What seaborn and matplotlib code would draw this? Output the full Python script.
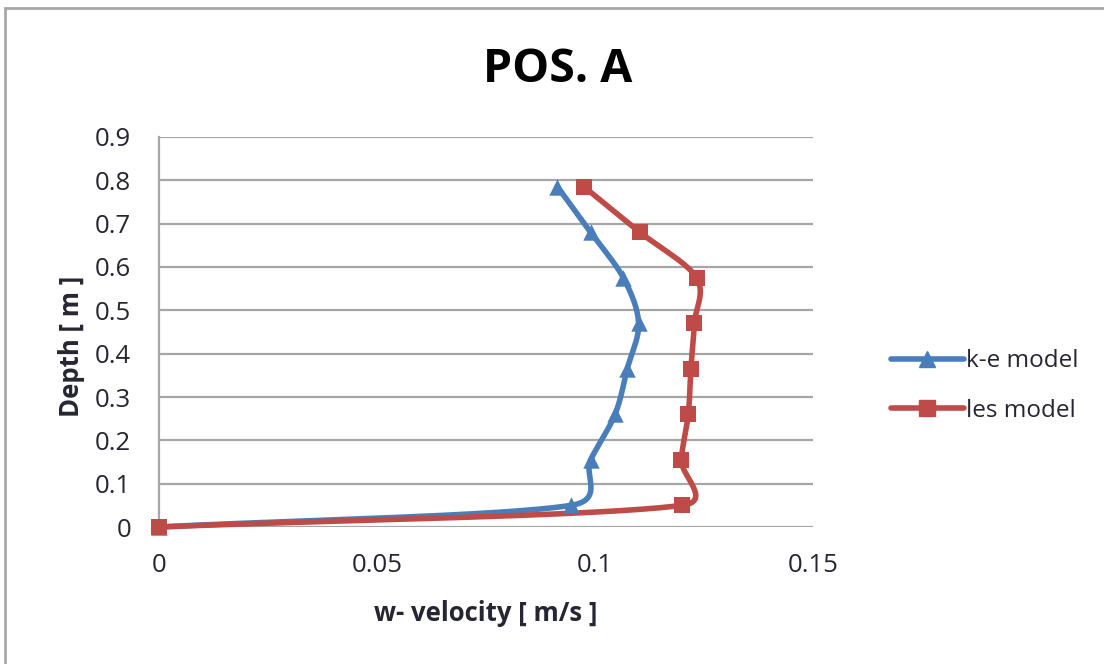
import numpy as np
import pandas as pd
import matplotlib
matplotlib.use("Agg")
import matplotlib.pyplot as plt
from matplotlib.lines import Line2D
from matplotlib.patches import Rectangle
import seaborn as sns

# Measured profiles
depth = [0.0, 0.05, 0.155, 0.26, 0.365, 0.47, 0.575, 0.68, 0.785]
ke_velocity = [0.0, 0.0945, 0.0990, 0.1046, 0.1074, 0.1100, 0.1065, 0.0990, 0.0914]
les_velocity = [0.0, 0.1200, 0.1198, 0.1214, 0.1220, 0.1228, 0.1233, 0.1103, 0.0975]
series_names = ["k-e model", "les model"]
x_ticks = [0, 0.05, 0.1, 0.15]
x_tick_labels = ["0", "0.05", "0.1", "0.15"]
y_ticks = [0, 0.1, 0.2, 0.3, 0.4, 0.5, 0.6, 0.7, 0.8, 0.9]
y_tick_labels = ["0", "0.1", "0.2", "0.3", "0.4", "0.5", "0.6", "0.7", "0.8", "0.9"]

BLUE = "#4A7EBB"
RED = "#BE4B48"
GRID = "#A6A6A6"
TEXT = "#262633"

sns.set_theme(style="white")
plt.rcParams["font.family"] = ["Open Sans", "DejaVu Sans"]

fig = plt.figure(figsize=(11.04, 6.64), dpi=100)
ax = fig.add_axes([0.144, 0.2063, 0.5924, 0.5874])

# chart frame
fig.patches.append(Rectangle((5 / 1104, -0.05), 1.1, 1 - 8 / 664 + 0.05,
                             transform=fig.transFigure, fill=False,
                             edgecolor="#A8A8A8", linewidth=2.0))

ax.set_xlim(0, 0.15)
ax.set_ylim(0, 0.9)


def smooth(xs, ys, n=40, clamp=2.1):
    """Smoothed curve through the points (Hermite segments, display space).

    Tangents follow the Catmull-Rom direction; their length on each side of a
    point is capped relative to the adjacent segment to avoid big overshoot.
    """
    pts = ax.transData.transform(np.column_stack([xs, ys]))
    npt = len(pts)
    t_in = np.zeros_like(pts)
    t_out = np.zeros_like(pts)
    for i in range(npt):
        prev_p = pts[i - 1] if i > 0 else pts[i]
        next_p = pts[i + 1] if i < npt - 1 else pts[i]
        d = next_p - prev_p
        if i == 0 or i == npt - 1:
            d = d * 2
        length = np.hypot(*d)
        if length == 0:
            continue
        u = d / length
        base = length / 2
        seg_in = np.hypot(*(pts[i] - prev_p))
        seg_out = np.hypot(*(next_p - pts[i]))
        t_in[i] = u * min(base, clamp * seg_in) if i > 0 else u * base
        t_out[i] = u * min(base, clamp * seg_out) if i < npt - 1 else u * base
    t = np.linspace(0, 1, n)[:, None]
    h00 = 2 * t**3 - 3 * t**2 + 1
    h10 = t**3 - 2 * t**2 + t
    h01 = -2 * t**3 + 3 * t**2
    h11 = t**3 - t**2
    out = []
    for i in range(npt - 1):
        seg = h00 * pts[i] + h10 * t_out[i] + h01 * pts[i + 1] + h11 * t_in[i + 1]
        out.append(seg if i == 0 else seg[1:])
    curve = ax.transData.inverted().transform(np.vstack(out))
    return curve[:, 0], curve[:, 1]


df = pd.DataFrame({
    "velocity": ke_velocity + les_velocity,
    "depth": depth + depth,
    "model": [series_names[0]] * len(depth) + [series_names[1]] * len(depth),
})

for name, color, marker in [(series_names[0], BLUE, "^"), (series_names[1], RED, "s")]:
    sub = df[df["model"] == name]
    cx, cy = smooth(sub["velocity"].to_numpy(), sub["depth"].to_numpy())
    ax.plot(cx, cy, color=color, linewidth=4.0, solid_capstyle="round",
            solid_joinstyle="round", clip_on=False, zorder=3)
    sns.scatterplot(x=sub["velocity"], y=sub["depth"], ax=ax, color=color,
                    marker=marker, s=130 if marker == "s" else 140,
                    edgecolor=color, linewidth=0, clip_on=False, zorder=4,
                    legend=False)

ax.set_xticks(x_ticks)
ax.set_xticklabels(x_tick_labels)
ax.set_yticks(y_ticks)
ax.set_yticklabels(y_tick_labels)
ax.tick_params(axis="both", length=0, labelsize=18.5, labelcolor=TEXT)
ax.tick_params(axis="x", pad=19)
ax.tick_params(axis="y", pad=20)

ax.yaxis.grid(True, color=GRID, linewidth=1.6)
ax.xaxis.grid(False)
for side in ["top", "right", "bottom"]:
    ax.spines[side].set_visible(False)
ax.spines["left"].set_color(GRID)
ax.spines["left"].set_linewidth(1.6)

ax.set_xlabel("w- velocity [ m/s ]", fontsize=18.5, fontweight="bold",
              color=TEXT)
ax.set_ylabel("Depth [ m ]", fontsize=18.5, fontweight="bold", color=TEXT)
ax.xaxis.set_label_coords(0.5, -0.187)
ax.yaxis.set_label_coords(-0.113, 0.464)

fig.text(558 / 1104, 1 - 70 / 664, "POS. A", ha="center", va="center",
         fontsize=33.5, fontweight="bold", color="black")

handles = [
    Line2D([], [], color=BLUE, linewidth=4.0, marker="^", markersize=12),
    Line2D([], [], color=RED, linewidth=4.0, marker="s", markersize=11),
]
fig.legend(handles, series_names, loc="center left",
           bbox_to_anchor=(869 / 1104, 1 - 386 / 664), frameon=False,
           fontsize=17.5, handlelength=3.0, handletextpad=0.1,
           labelspacing=1.05, labelcolor=TEXT)

fig.savefig("out.png", dpi=100)
